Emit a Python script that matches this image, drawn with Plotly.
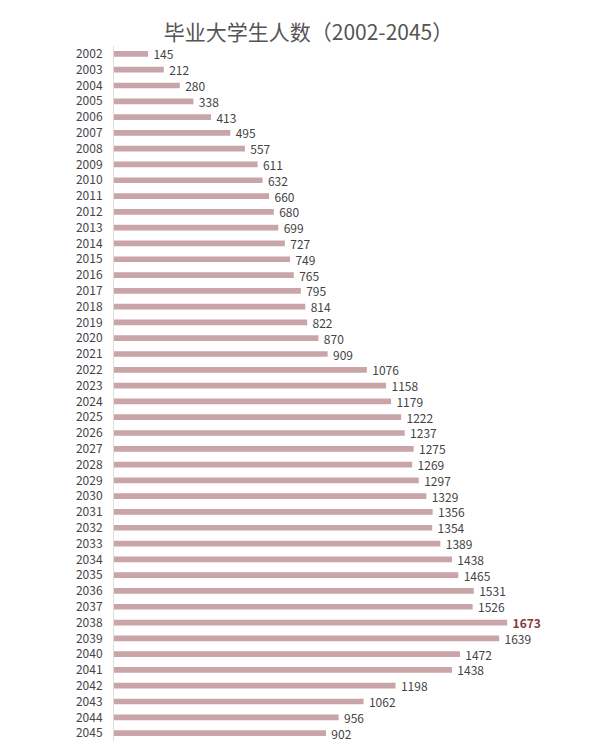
import plotly.graph_objects as go

years = [str(y) for y in range(2002, 2046)]
graduates = [145, 212, 280, 338, 413, 495, 557, 611, 632, 660, 680, 699, 727, 749,
             765, 795, 814, 822, 870, 909, 1076, 1158, 1179, 1222, 1237, 1275, 1269,
             1297, 1329, 1356, 1354, 1389, 1438, 1465, 1531, 1526, 1673, 1639, 1472,
             1438, 1198, 1062, 956, 902]
peak_year = "2038"

labels = []
for y, v in zip(years, graduates):
    if y == peak_year:
        labels.append("  <b><span style='color:#8a3a3e'>%d</span></b>" % v)
    else:
        labels.append("  %d" % v)

fig = go.Figure(go.Bar(
    x=graduates, y=years, orientation="h",
    marker=dict(color="#c9a4a8", line=dict(width=0)),
    width=0.36,
    text=labels, textposition="outside", cliponaxis=False, constraintext="none",
    textfont=dict(size=12, color="#444444", family="Noto Sans CJK SC"),
))

fig.update_layout(
    width=601, height=744,
    margin=dict(l=106, r=25, t=38, b=11),
    paper_bgcolor="white", plot_bgcolor="white",
    title=dict(text="毕业大学生人数（2002-2045）", x=0.5, xanchor="center", y=0.977,
               font=dict(size=21, color="#555555", family="Noto Sans CJK SC")),
    showlegend=False,
    font=dict(family="Noto Sans CJK SC"),
    uniformtext=dict(minsize=12, mode="show"),
)
fig.update_xaxes(range=[0, 2000], visible=False, automargin=False)
fig.update_yaxes(type="category", autorange="reversed", showgrid=False, ticks="",
                 dtick=1, ticklabelstandoff=8, automargin=False,
                 tickfont=dict(size=12, color="#444444"),
                 showline=True, linecolor="#dddddd", linewidth=1)

fig.write_html("out.html")
